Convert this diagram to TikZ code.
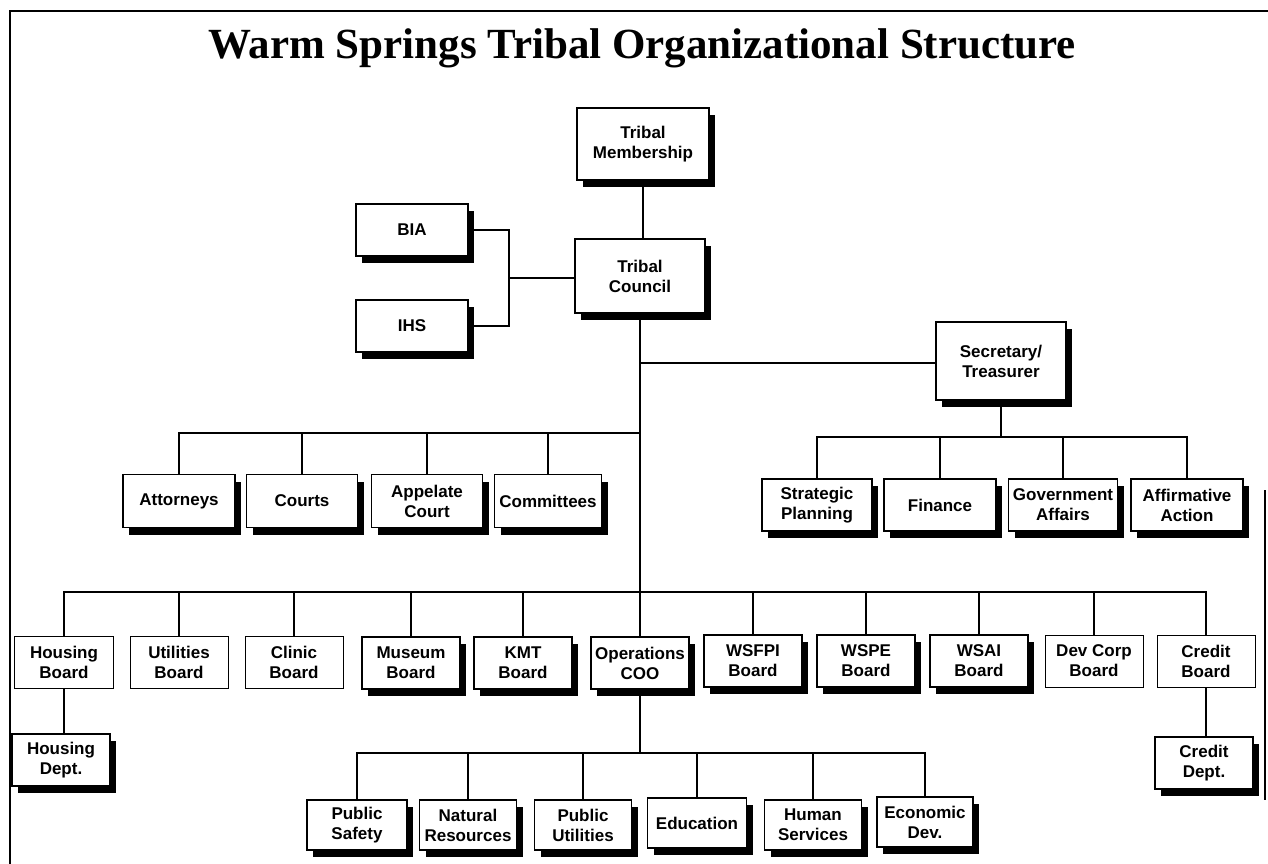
\documentclass[tikz,border=0pt]{standalone}
\usepackage{fontspec}
\setmainfont{Liberation Sans}
\newfontfamily\titlefont{Liberation Serif}
\usetikzlibrary{shadows}
\begin{document}
\begin{tikzpicture}[x=1pt,y=-1pt,
  box/.style={draw, line width=1.2pt, fill=white, align=center, inner sep=1pt,
    font=\bfseries\fontsize{17}{20}\selectfont},
  sbox/.style={box, drop shadow={shadow xshift=6pt, shadow yshift=-7pt, fill=black, opacity=1}},
  pbox/.style={box, line width=0.8pt},
  wh/.style 2 args={minimum width=#1pt, minimum height=#2pt},
  conn/.style={line width=1.2pt},
  frame/.style={line width=1.5pt}]
\useasboundingbox (0,0) rectangle (1268,864);

% frame
\draw[frame] (10,864) -- (10,11) -- (1268,11);
\draw[frame] (1265,490) -- (1265,800);

% title
\node[font=\titlefont\bfseries\fontsize{43}{50}\selectfont, anchor=base, inner sep=0pt] (title) at (642,59) {Warm Springs Tribal Organizational Structure};

% top
\node[sbox, wh={132}{72}] (mem) at (643,144) {Tribal\\Membership};
\node[sbox, wh={130}{74}] (council) at (640,276) {Tribal\\Council};
\node[sbox, wh={112}{52}] (bia) at (412,230) {BIA};
\node[sbox, wh={112}{52}] (ihs) at (412,326) {IHS};
\node[sbox, wh={130}{78}] (sec) at (1001,361) {Secretary/\\Treasurer};

% level 2 left
\node[sbox, wh={112}{53}] (att) at (179,501) {Attorneys};
\node[sbox, wh={111}{53}] (courts) at (302,501) {Courts};
\node[sbox, wh={111}{53}] (app) at (427,501) {Appelate\\Court};
\node[sbox, wh={107}{53}] (com) at (548,501) {Committees};

% level 2 right
\node[sbox, wh={110}{52}] (strat) at (817,505) {Strategic\\Planning};
\node[sbox, wh={112}{52}] (fin) at (940,505) {Finance};
\node[sbox, wh={109}{52}] (gov) at (1063,505) {Government\\Affairs};
\node[sbox, wh={112}{52}] (aff) at (1187,505) {Affirmative\\Action};

% level 3
\node[pbox, wh={99}{52}] (hb) at (64,662) {Housing\\Board};
\node[pbox, wh={98}{52}] (ub) at (179,662) {Utilities\\Board};
\node[pbox, wh={98}{52}] (cb) at (294,662) {Clinic\\Board};
\node[sbox, wh={98}{52}] (mb) at (411,663) {Museum\\Board};
\node[sbox, wh={98}{52}] (kmt) at (523,663) {KMT\\Board};
\node[sbox, wh={98}{52}] (ops) at (640,663) {Operations\\COO};
\node[sbox, wh={98}{52}] (wsfpi) at (753,661) {WSFPI\\Board};
\node[sbox, wh={98}{52}] (wspe) at (866,661) {WSPE\\Board};
\node[sbox, wh={98}{52}] (wsai) at (979,661) {WSAI\\Board};
\node[pbox, wh={98}{52}] (dev) at (1094,661) {Dev Corp\\Board};
\node[pbox, wh={98}{52}] (cred) at (1206,661) {Credit\\Board};

\node[sbox, wh={98}{52}] (hd) at (61,760) {Housing\\Dept.};
\node[sbox, wh={98}{52}] (cd) at (1204,763) {Credit\\Dept.};

% level 4
\node[sbox, wh={100}{50}] (ps) at (357,825) {Public\\Safety};
\node[sbox, wh={97}{50}] (nr) at (468,825) {Natural\\Resources};
\node[sbox, wh={97}{50}] (pu) at (583,825) {Public\\Utilities};
\node[sbox, wh={99}{50}] (edu) at (697,823) {Education};
\node[sbox, wh={97}{50}] (hs) at (813,825) {Human\\Services};
\node[sbox, wh={96}{50}] (ed) at (925,822) {Economic\\Dev.};

% connectors top
\draw[conn] (mem.south) -- (mem.south |- council.north);
\coordinate (j) at (509,278);
\draw[conn] (bia.east) -| (j) |- (ihs.east);
\draw[conn] (j) -- (council.west |- j);

% main trunk
\coordinate (s) at (640,363);
\coordinate (bl) at (640,433);
\coordinate (b3) at (640,592);
\draw[conn] (council.south) -- (b3) -- (ops.north);
\draw[conn] (s) -- (s -| sec.west);

% left group
\draw[conn] (bl) -- (bl -| att.north) -- (att.north);
\foreach \n in {courts,app,com} \draw[conn] (bl -| \n.north) -- (\n.north);

% right group
\coordinate (br) at (1001,437);
\draw[conn] (sec.south) -- (br);
\draw[conn] (strat.north) -- (strat.north |- br) -- (aff.north |- br) -- (aff.north);
\foreach \n in {fin,gov} \draw[conn] (\n.north |- br) -- (\n.north);

% level 3 bus
\draw[conn] (hb.north) -- (hb.north |- b3) -- (cred.north |- b3) -- (cred.north);
\foreach \n in {ub,cb,mb,kmt,wsfpi,wspe,wsai,dev} \draw[conn] (\n.north |- b3) -- (\n.north);
\draw[conn] (hb.south) -- (hb.south |- hd.north);
\draw[conn] (cred.south) -- (cred.south |- cd.north);

% level 4 bus
\coordinate (b4) at (640,753);
\draw[conn] (ops.south) -- (b4);
\draw[conn] (ps.north) -- (ps.north |- b4) -- (ed.north |- b4) -- (ed.north);
\foreach \n in {nr,pu,edu,hs} \draw[conn] (\n.north |- b4) -- (\n.north);
\end{tikzpicture}
\end{document}
